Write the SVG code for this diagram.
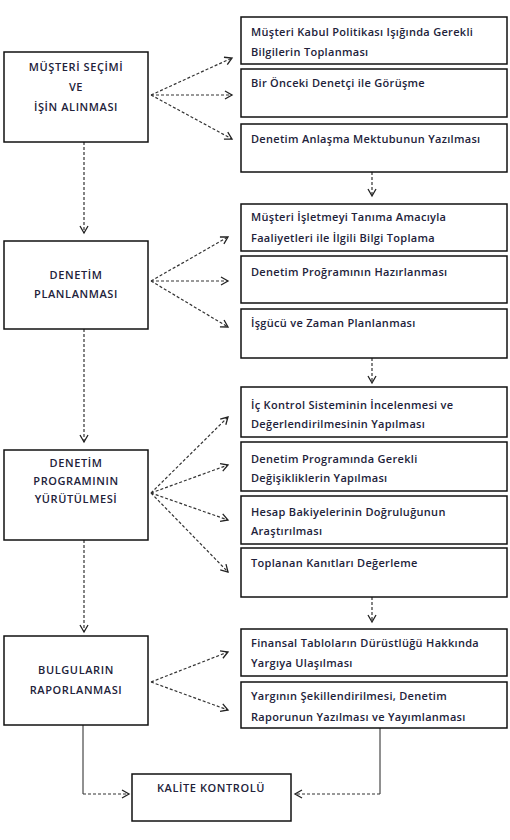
<svg xmlns="http://www.w3.org/2000/svg" width="510" height="840" viewBox="0 0 510 840">
<defs>
<marker id="ah" markerUnits="userSpaceOnUse" markerWidth="12" markerHeight="12" refX="8" refY="5" orient="auto">
<path d="M1,1 L8,5 L1,9" fill="none" stroke="#222" stroke-width="1.3"/>
</marker>
<style>
.box{fill:#fff;stroke:#111;stroke-width:1.5}
.lt{font-family:"Open Sans","Liberation Sans",Arial,sans-serif;font-size:11px;font-weight:600;letter-spacing:0.6px;fill:#22223a;text-anchor:middle}
.rt{font-family:"Open Sans","Liberation Sans",Arial,sans-serif;font-size:11px;font-weight:600;letter-spacing:0.3px;fill:#22223a}
.d{fill:none;stroke:#333;stroke-width:1.2;stroke-dasharray:3,2}
.s{fill:none;stroke:#222;stroke-width:1}
</style>
</defs>
<rect width="510" height="840" fill="#fff"/>
<g id="connectors">
<path class="d" d="M151,95 L232,58" marker-end="url(#ah)"/>
<path class="d" d="M151,95 L232,95" marker-end="url(#ah)"/>
<path class="d" d="M151,95 L232,139" marker-end="url(#ah)"/>
<path class="d" d="M372,172 L372,196" marker-end="url(#ah)"/>
<path class="d" d="M84,142 L84,233" marker-end="url(#ah)"/>
<path class="d" d="M151,281 L228,237" marker-end="url(#ah)"/>
<path class="d" d="M151,281 L228,281" marker-end="url(#ah)"/>
<path class="d" d="M151,281 L228,327" marker-end="url(#ah)"/>
<path class="d" d="M372,358 L372,383" marker-end="url(#ah)"/>
<path class="d" d="M84,329 L84,442" marker-end="url(#ah)"/>
<path class="d" d="M151,493 L228,417" marker-end="url(#ah)"/>
<path class="d" d="M151,493 L228,465" marker-end="url(#ah)"/>
<path class="d" d="M151,493 L228,520" marker-end="url(#ah)"/>
<path class="d" d="M151,493 L228,572" marker-end="url(#ah)"/>
<path class="d" d="M372,597 L372,622" marker-end="url(#ah)"/>
<path class="d" d="M84,540 L84,632" marker-end="url(#ah)"/>
<path class="d" d="M151,682 L228,652" marker-end="url(#ah)"/>
<path class="d" d="M151,682 L228,710" marker-end="url(#ah)"/>
<path class="s" d="M83,725 L83,794"/>
<path class="d" d="M83,794 L129,794" marker-end="url(#ah)"/>
<path class="s" d="M380,728 L380,794"/>
<path class="d" d="M380,794 L295,794" marker-end="url(#ah)"/>
</g>
<g id="n1"><rect class="box" x="4" y="52" width="144" height="90"/>
<text class="lt" x="76" y="71">MÜŞTERİ SEÇİMİ</text><text class="lt" x="76" y="91">VE</text><text class="lt" x="76" y="111">İŞİN ALINMASI</text></g>
<g id="n2"><rect class="box" x="4" y="241" width="144" height="88"/>
<text class="lt" x="76" y="279">DENETİM</text><text class="lt" x="76" y="298">PLANLANMASI</text></g>
<g id="n3"><rect class="box" x="4" y="450" width="144" height="90"/>
<text class="lt" x="76" y="467">DENETİM</text><text class="lt" x="76" y="485">PROGRAMININ</text><text class="lt" x="76" y="503">YÜRÜTÜLMESİ</text></g>
<g id="n4"><rect class="box" x="4" y="636" width="144" height="89"/>
<text class="lt" x="76" y="674">BULGULARIN</text><text class="lt" x="76" y="694">RAPORLANMASI</text></g>
<g id="n5"><rect class="box" x="132" y="774" width="159" height="47"/>
<text class="lt" x="211" y="792">KALİTE KONTROLÜ</text></g>
<g id="r1"><rect class="box" x="241" y="17" width="266" height="47"/>
<text class="rt" x="251" y="36">Müşteri Kabul Politikası Işığında Gerekli</text><text class="rt" x="251" y="56">Bilgilerin Toplanması</text></g>
<g id="r2"><rect class="box" x="241" y="69" width="266" height="48"/>
<text class="rt" x="251" y="87">Bir Önceki Denetçi ile Görüşme</text></g>
<g id="r3"><rect class="box" x="241" y="124" width="266" height="48"/>
<text class="rt" x="251" y="143">Denetim Anlaşma Mektubunun Yazılması</text></g>
<g id="r4"><rect class="box" x="241" y="204" width="266" height="47"/>
<text class="rt" x="251" y="221">Müşteri İşletmeyi Tanıma Amacıyla</text><text class="rt" x="251" y="242">Faaliyetleri ile İlgili Bilgi Toplama</text></g>
<g id="r5"><rect class="box" x="241" y="256" width="266" height="47"/>
<text class="rt" x="251" y="276">Denetim Proğramının Hazırlanması</text></g>
<g id="r6"><rect class="box" x="241" y="309" width="266" height="49"/>
<text class="rt" x="251" y="327">İşgücü ve Zaman Planlanması</text></g>
<g id="r7"><rect class="box" x="241" y="387" width="266" height="50"/>
<text class="rt" x="251" y="409">İç Kontrol Sisteminin İncelenmesi ve</text><text class="rt" x="251" y="428">Değerlendirilmesinin Yapılması</text></g>
<g id="r8"><rect class="box" x="241" y="442" width="266" height="49"/>
<text class="rt" x="251" y="463">Denetim Programında Gerekli</text><text class="rt" x="251" y="482">Değişikliklerin Yapılması</text></g>
<g id="r9"><rect class="box" x="241" y="496" width="266" height="48"/>
<text class="rt" x="251" y="516">Hesap Bakiyelerinin Doğruluğunun</text><text class="rt" x="251" y="535">Araştırılması</text></g>
<g id="r10"><rect class="box" x="241" y="548" width="266" height="49"/>
<text class="rt" x="251" y="567">Toplanan Kanıtları Değerleme</text></g>
<g id="r11"><rect class="box" x="241" y="629" width="266" height="47"/>
<text class="rt" x="251" y="647">Finansal Tabloların Dürüstlüğü Hakkında</text><text class="rt" x="251" y="667">Yargıya Ulaşılması</text></g>
<g id="r12"><rect class="box" x="241" y="682" width="266" height="46"/>
<text class="rt" x="251" y="700">Yargının Şekillendirilmesi, Denetim</text><text class="rt" x="251" y="721">Raporunun Yazılması ve Yayımlanması</text></g>
</svg>
